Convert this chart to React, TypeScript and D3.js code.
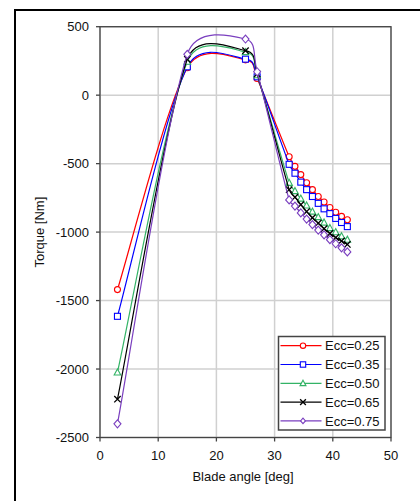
import React from "react";
import * as d3 from "d3";

const angles = [3, 15, 25, 27, 32.5, 33.5, 34.5, 35.5, 36.5, 37.5, 38.5, 39.5, 40.5, 41.5, 42.5];
const ecc025 = [-1420, 200, 258, 122, -450, -520, -580, -640, -690, -740, -780, -820, -855, -885, -910];
const ecc035 = [-1615, 207, 263, 134, -505, -570, -635, -690, -740, -790, -830, -865, -900, -930, -960];
const ecc050 = [-2025, 245, 315, 146, -640, -700, -755, -805, -850, -890, -930, -970, -1000, -1030, -1055];
const ecc065 = [-2220, 262, 325, 155, -690, -745, -800, -850, -895, -935, -975, -1010, -1040, -1065, -1090];
const ecc075 = [-2400, 298, 410, 171, -765, -810, -860, -905, -945, -985, -1020, -1055, -1085, -1115, -1145];

const seriesNames = ["Ecc=0.25", "Ecc=0.35", "Ecc=0.50", "Ecc=0.65", "Ecc=0.75"];
const seriesValues = [ecc025, ecc035, ecc050, ecc065, ecc075];
const seriesColors = ["#ff0000", "#0000ff", "#33b366", "#000000", "#7a3fbf"];
const seriesMarkers = ["circle", "square", "triangle", "cross", "diamond"];

const xTicks = [0, 10, 20, 30, 40, 50];
const yTicks = [500, 0, -500, -1000, -1500, -2000, -2500];

const left = 100, right = 391, top = 26.7, bottom = 437.5;
const font = "Arial, 'Liberation Sans', Helvetica, sans-serif";

// Excel-style smoothed line: Bezier with 1/6 tangents, clamped to half the segment length
function smoothPath(pts: [number, number][]) {
  const p = d3.path();
  if (!pts.length) return "";
  p.moveTo(pts[0][0], pts[0][1]);
  const n = pts.length;
  for (let i = 0; i < n - 1; i++) {
    const p0 = pts[Math.max(i - 1, 0)];
    const p1 = pts[i];
    const p2 = pts[i + 1];
    const p3 = pts[Math.min(i + 2, n - 1)];
    const d12 = Math.hypot(p2[0] - p1[0], p2[1] - p1[1]);
    let t1x = (p2[0] - p0[0]) / 6, t1y = (p2[1] - p0[1]) / 6;
    let t2x = (p3[0] - p1[0]) / 6, t2y = (p3[1] - p1[1]) / 6;
    const l1 = Math.hypot(t1x, t1y), l2 = Math.hypot(t2x, t2y);
    if (l1 > d12 / 2) { t1x *= d12 / 2 / l1; t1y *= d12 / 2 / l1; }
    if (l2 > d12 / 2) { t2x *= d12 / 2 / l2; t2y *= d12 / 2 / l2; }
    p.bezierCurveTo(p1[0] + t1x, p1[1] + t1y, p2[0] - t2x, p2[1] - t2y, p2[0], p2[1]);
  }
  return p.toString();
}

function Marker({ type, x, y, color, s = 1 }: { type: string; x: number; y: number; color: string; s?: number }) {
  const sw = 1.1;
  if (type === "circle") return <circle cx={x} cy={y} r={3 * s} fill="white" stroke={color} strokeWidth={sw} />;
  if (type === "square") return <rect x={x - 3 * s} y={y - 3 * s} width={6 * s} height={6 * s} fill="white" stroke={color} strokeWidth={sw} />;
  if (type === "triangle")
    return <path d={`M${x},${y - 3.5 * s}L${x + 3.3 * s},${y + 2.6 * s}L${x - 3.3 * s},${y + 2.6 * s}Z`} fill="white" stroke={color} strokeWidth={sw} />;
  if (type === "cross")
    return <path d={`M${x - 3.2 * s},${y - 3.2 * s}L${x + 3.2 * s},${y + 3.2 * s}M${x + 3.2 * s},${y - 3.2 * s}L${x - 3.2 * s},${y + 3.2 * s}`} stroke={color} strokeWidth={1.3} />;
  return <path d={`M${x},${y - 4 * s}L${x + 3.5 * s},${y}L${x},${y + 4 * s}L${x - 3.5 * s},${y}Z`} fill="white" stroke={color} strokeWidth={sw} />;
}

export default function App() {
  const x = d3.scaleLinear().domain([0, 50]).range([left, right]);
  const y = d3.scaleLinear().domain([-2500, 500]).range([bottom, top]);

  const legendX = 278.5, legendY = 336.5, legendW = 106.5, legendH = 93.5;

  return (
    <svg width={420} height={501} style={{ position: "absolute", left: 0, top: 0, background: "white" }}>
      <rect x={0} y={0} width={420} height={501} fill="white" />
      <line x1={15} y1={10} x2={420} y2={10} stroke="#000" strokeWidth={2} />
      <line x1={15} y1={9} x2={15} y2={501} stroke="#000" strokeWidth={2} />

      {xTicks.map((t) => (
        <line key={"gx" + t} x1={x(t)} x2={x(t)} y1={top} y2={bottom} stroke="#d0d0d0" strokeWidth={1.5} />
      ))}
      {yTicks.map((t) => (
        <line key={"gy" + t} x1={left} x2={right} y1={y(t)} y2={y(t)} stroke="#d0d0d0" strokeWidth={1.5} />
      ))}

      <rect x={left} y={top} width={right - left} height={bottom - top} fill="none" stroke="#444" strokeWidth={1.3} />

      {yTicks.map((t) => (
        <g key={"ty" + t}>
          <line x1={left - 4} x2={left} y1={y(t)} y2={y(t)} stroke="#444" strokeWidth={1.3} />
          <text x={left - 11} y={y(t)} dy="0.35em" textAnchor="end" fontFamily={font} fontSize={13} fill="#111">
            {t}
          </text>
        </g>
      ))}
      {xTicks.map((t) => (
        <g key={"tx" + t}>
          <line x1={x(t)} x2={x(t)} y1={bottom} y2={bottom + 4} stroke="#444" strokeWidth={1.3} />
          <text x={x(t)} y={459.5} textAnchor="middle" fontFamily={font} fontSize={13} fill="#111">
            {t}
          </text>
        </g>
      ))}

      <text x={243} y={481} textAnchor="middle" fontFamily={font} fontSize={13} fill="#111">
        Blade angle [deg]
      </text>
      <text transform={`translate(44,${(top + bottom) / 2}) rotate(-90)`} textAnchor="middle" fontFamily={font} fontSize={13} fill="#111">
        Torque [Nm]
      </text>

      {seriesValues.map((vals, i) => {
        const pts = angles.map((a, j) => [x(a), y(vals[j])] as [number, number]);
        return (
          <g key={"s" + i}>
            <path d={smoothPath(pts)} fill="none" stroke={seriesColors[i]} strokeWidth={1.2} />
            {pts.map((p, j) => (
              <Marker key={j} type={seriesMarkers[i]} x={p[0]} y={p[1]} color={seriesColors[i]} />
            ))}
          </g>
        );
      })}

      <rect x={legendX} y={legendY} width={legendW} height={legendH} fill="white" stroke="#444" strokeWidth={1.5} />
      {seriesNames.map((n, i) => {
        const ly = 345.7 + i * 18.8;
        return (
          <g key={"l" + i}>
            <line x1={280.5} x2={321.5} y1={ly} y2={ly} stroke={seriesColors[i]} strokeWidth={1.2} />
            <Marker type={seriesMarkers[i]} x={303} y={ly} color={seriesColors[i]} s={i === 4 ? 0.7 : 0.9} />
            <text x={325} y={ly} dy="0.36em" fontFamily={font} fontSize={13} fill="#111">
              {n}
            </text>
          </g>
        );
      })}
    </svg>
  );
}
